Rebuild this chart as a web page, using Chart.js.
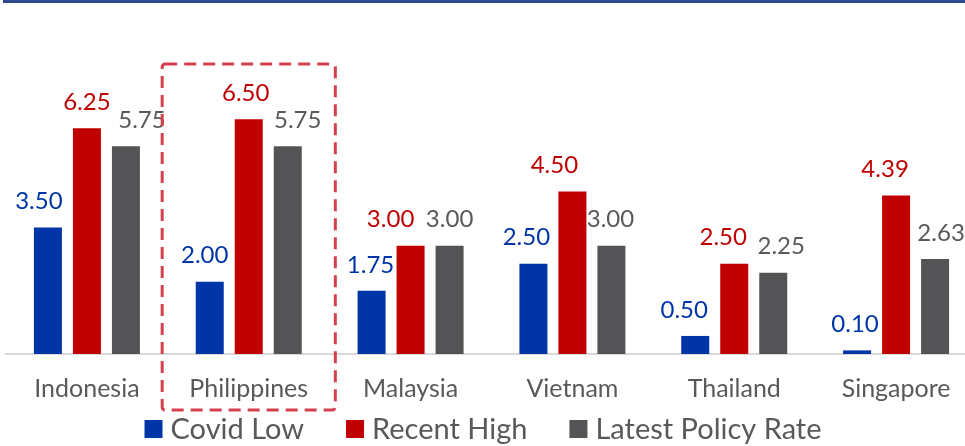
<!DOCTYPE html>
<html>
<head>
<meta charset="utf-8">
<script src="https://cdn.jsdelivr.net/npm/chart.js@4.4.0/dist/chart.umd.min.js"></script>
<style>
	html, body { margin: 0; padding: 0; background: #fff; overflow: hidden; }
	#wrap { position: relative; width: 977px; height: 446px; }
	#topline { position: absolute; left: 3px; top: 0; width: 962px; height: 3px; background: #2e4a8e; }
</style>
</head>
<body>
<div id="wrap">
	<canvas id="rateChart" width="977" height="446"></canvas>
	<div id="topline"></div>
</div>
<script>
const countries = ["Indonesia", "Philippines", "Malaysia", "Vietnam", "Thailand", "Singapore"]
const covidLow = [3.50, 2.00, 1.75, 2.50, 0.50, 0.10]
const recentHigh = [6.25, 6.50, 3.00, 4.50, 2.50, 4.39]
const latestRate = [5.75, 5.75, 3.00, 3.00, 2.25, 2.63]
const highlighted = "Philippines"

//sideways nudges of the value labels, as they sit in the original
const lowNudge = [-9, -5, -1, -7, -11, -2]
const highNudge = [0, -3, -20, -18, -11, -11]
const latestNudge = [16, 10, 0, -1, 8, 6]

const FONT = "Lato, 'Open Sans', sans-serif"

const valueLabels = {
	id: 'valueLabels',
	afterDatasetsDraw(chart) {
		const ctx = chart.ctx
		ctx.save()
		ctx.font = `24px ${FONT}`
		ctx.textAlign = 'center'
		ctx.textBaseline = 'middle'
		chart.data.datasets.forEach((ds, i) => {
			const meta = chart.getDatasetMeta(i)
			meta.data.forEach((bar, j) => {
				ctx.fillStyle = ds.labelColor
				ctx.fillText(ds.data[j].toFixed(2), bar.x + ds.nudge[j], bar.y - 26)
			})
		})
		ctx.restore()
	}
}

//dashed box round the highlighted country
const highlightBox = {
	id: 'highlightBox',
	afterDraw(chart) {
		const x = chart.scales.x
		const y = chart.scales.y
		const idx = countries.indexOf(highlighted)
		if (idx === -1) return
		const cx = x.getPixelForValue(idx)
		const half = (x.width / countries.length) * 0.535
		const top = y.getPixelForValue(8) - 1
		const bottom = chart.chartArea.bottom + 56
		const ctx = chart.ctx
		ctx.save()
		ctx.strokeStyle = '#d4414d'
		ctx.lineWidth = 3
		ctx.setLineDash([12, 7])
		ctx.beginPath()
		ctx.roundRect(cx - half, top, half * 2, bottom - top, 3)
		ctx.stroke()
		ctx.restore()
	}
}

//legend row under the axis, drawn from the datasets
const bottomLegend = {
	id: 'bottomLegend',
	afterDraw(chart) {
		const ctx = chart.ctx
		const box = 18, gap = 8, spacing = 42
		ctx.save()
		ctx.font = `29px ${FONT}`
		ctx.textBaseline = 'middle'
		const items = chart.data.datasets.map(ds => ({
			text: ds.label,
			color: ds.backgroundColor,
			w: box + gap + ctx.measureText(ds.label).width
		}))
		const total = items.reduce((s, it) => s + it.w, 0) + spacing * (items.length - 1)
		let x = 483 - total / 2
		const y = 429
		items.forEach((it) => {
			ctx.fillStyle = it.color
			ctx.fillRect(x, y - box / 2, box, box)
			ctx.fillStyle = '#595959'
			ctx.fillText(it.text, x + box + gap, y + 1)
			x += it.w + spacing
		})
		ctx.restore()
	}
}

const chart_ctx = document.getElementById("rateChart").getContext("2d")

new Chart(chart_ctx, {
	type: 'bar',
	data: {
		labels: countries,
		datasets: [{
			label: 'Covid Low',
			data: covidLow,
			backgroundColor: '#0035a8',
			labelColor: '#0035a8',
			nudge: lowNudge
		}, {
			label: 'Recent High',
			data: recentHigh,
			backgroundColor: '#c00000',
			labelColor: '#c00000',
			nudge: highNudge
		}, {
			label: 'Latest Policy Rate',
			data: latestRate,
			backgroundColor: '#545456',
			labelColor: '#595959',
			nudge: latestNudge
		}]
	},
	options: {
		responsive: false,
		animation: false,
		layout: {
			padding: { top: 65, left: 6, right: 0, bottom: 30 }
		},
		datasets: {
			bar: {
				categoryPercentage: 0.723,
				barPercentage: 0.718
			}
		},
		scales: {
			x: {
				grid: { display: false },
				border: { display: true, color: '#d9d9d9', width: 2 },
				ticks: {
					color: '#595959',
					font: { family: FONT, size: 25 },
					padding: 12
				}
			},
			y: {
				display: false,
				min: 0,
				max: 8
			}
		},
		plugins: {
			legend: { display: false },
			tooltip: { enabled: false }
		}
	},
	plugins: [valueLabels, highlightBox, bottomLegend]
})
</script>
</body>
</html>
